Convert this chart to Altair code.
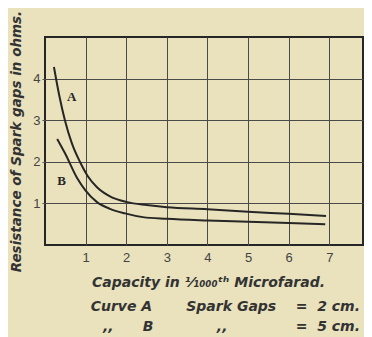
import altair as alt
import pandas as pd

# Curve A (spark gaps = 2 cm)
a_x = [0.22, 0.35, 0.49, 0.66, 0.86, 1.05, 1.28, 1.6, 2.02, 2.5, 3.0, 4.0, 5.0, 6.0, 6.92]
a_y = [4.28, 3.6, 3.0, 2.45, 2.0, 1.66, 1.39, 1.17, 1.03, 0.96, 0.91, 0.86, 0.80, 0.75, 0.70]
# Curve B (spark gaps = 5 cm)
b_x = [0.30, 0.49, 0.79, 0.99, 1.28, 1.6, 1.97, 2.41, 3.0, 4.0, 5.0, 6.0, 6.90]
b_y = [2.55, 2.21, 1.61, 1.32, 1.03, 0.87, 0.76, 0.67, 0.63, 0.59, 0.56, 0.53, 0.50]

label_names = ["A", "B"]
label_x = [0.66, 0.41]
label_y = [3.56, 1.54]

x_ticks = [1, 2, 3, 4, 5, 6, 7]
y_ticks = [1, 2, 3, 4]

INK = "#262626"
BG = "#e9e2bd"
FONT = "Liberation Sans"
TFONT = "DejaVu Sans"

curves = pd.DataFrame(
    {"x": a_x + b_x, "y": a_y + b_y, "curve": ["A"] * len(a_x) + ["B"] * len(b_x)}
)
labels = pd.DataFrame({"x": label_x, "y": label_y, "name": label_names})

xs = alt.Scale(domain=[0, 7.83], nice=False)
ys = alt.Scale(domain=[0, 5], nice=False)

x_axis = alt.Axis(
    values=x_ticks, grid=True, gridColor="#4a4a4a", gridWidth=1, gridOpacity=1,
    ticks=False, domain=False, labelFont=FONT, labelFontSize=13, labelColor="#444",
    labelPadding=6,
    title="Capacity in \u00b9\u2044\u2081\u2080\u2080\u2080\u1d57\u02b0 Microfarad.",
    titleFont=TFONT, titleFontStyle="italic", titleFontWeight="bold", titleFontSize=14,
    titleColor="#333", titleX=163, titleY=37, titleBaseline="middle", titleAlign="center",
)
y_axis = alt.Axis(
    values=y_ticks, grid=True, gridColor="#4a4a4a", gridWidth=1, gridOpacity=1,
    ticks=True, tickSize=3, tickColor="#555", domain=False, labelFont=FONT,
    labelFontSize=13, labelColor="#444", labelPadding=2,
    title="Resistance of Spark gaps in ohms.",
    titleFont=TFONT, titleFontStyle="italic", titleFontWeight="bold", titleFontSize=13.5,
    titleColor="#333", titleX=-29, titleY=104, titleBaseline="middle", titleAlign="center",
    titleAngle=270,
)

lines = alt.Chart(curves).mark_line(
    color=INK, strokeWidth=2, interpolate="monotone"
).encode(
    x=alt.X("x:Q", scale=xs, axis=x_axis),
    y=alt.Y("y:Q", scale=ys, axis=y_axis),
    detail="curve:N",
)

texts = alt.Chart(labels).mark_text(
    font="Liberation Serif", fontWeight="bold", fontSize=13, color=INK
).encode(x=alt.X("x:Q", scale=xs), y=alt.Y("y:Q", scale=ys), text="name:N")

NB = "\u00a0"
line1 = "Curve A" + NB * 7 + "Spark Gaps" + NB * 4 + "=" + NB * 2 + "2 cm."
line2 = ",," + NB * 6 + "B" + NB * 13 + ",," + NB * 14 + "=" + NB * 2 + "5 cm."

chart = alt.layer(lines, texts).properties(
    width=318, height=208,
    autosize=alt.AutoSizeParams(type="none"),
    padding={"left": 37, "top": 29, "right": 1, "bottom": 92},
    background=BG,
    title=alt.TitleParams(
        text=[line1, line2], orient="bottom", anchor="end", align="right", frame="group",
        font=TFONT, fontStyle="italic", fontWeight="bold", fontSize=14, color="#333",
        lineHeight=20, dx=-3, offset=11,
    ),
).configure_view(stroke=INK, strokeWidth=2, fill=BG)

chart.save("out.html", embed_options={"renderer": "svg", "actions": False})
